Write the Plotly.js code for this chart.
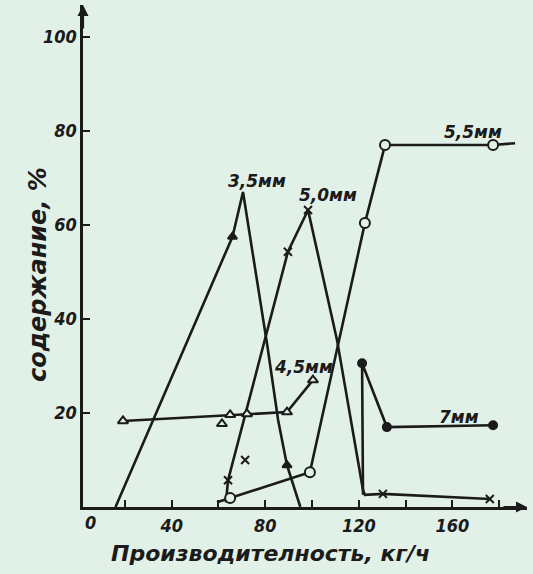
<!DOCTYPE html>
<html><head><meta charset="utf-8">
<script src="https://cdn.plot.ly/plotly-3.0.1.min.js"></script>
<style>html,body{margin:0;padding:0;background:#e2f1e8;}</style>
</head><body><div id="chart" style="width:533px;height:574px;"></div>
<script>
// ---- data ----
const s35_x = [16, 66, 70.5, 81, 85.5, 89.3, 95];
const s35_y = [0, 57.5, 67, 34, 18.5, 8.9, 0];
const s35_mx = [66, 89.3];
const s35_my = [57.5, 8.9];

const s45_x = [19.2, 65, 72.2, 89.3, 100.4];
const s45_y = [18.3, 19.6, 19.8, 20.2, 27];
const s45_mx = [19.2, 61.5, 65, 72.2, 89.3, 100.4];
const s45_my = [18.3, 17.7, 19.6, 19.8, 20.2, 27];

const s50_x = [63.2, 64.1, 89.7, 98.3, 110.7, 121.8, 122.6, 130.3, 176];
const s50_y = [1, 5.7, 54.3, 63.2, 35.5, 3.6, 2.6, 2.8, 1.7];
const s50_mx = [64.1, 71.4, 89.7, 98.3, 130.3, 176];
const s50_my = [5.7, 10, 54.3, 63.2, 2.8, 1.7];

const s55_x = [59.4, 65, 99.1, 122.6, 131.2, 177.4, 186.8];
const s55_y = [1, 1.9, 7.4, 60.4, 77, 77, 77.4];
const s55_mx = [65, 99.1, 122.6, 131.2, 177.4];
const s55_my = [1.9, 7.4, 60.4, 77, 77];

const s7_x = [121.8, 121.4, 132, 177.4];
const s7_y = [2.6, 30.6, 17, 17.4];
const s7_mx = [121.4, 132, 177.4];
const s7_my = [30.6, 17, 17.4];

const seriesLabels = ["3,5мм", "4,5мм", "5,0мм", "5,5мм", "7мм"];
const labelX = [76.5, 96.5, 106.8, 168.8, 163];
const labelY = [69.4, 29.8, 66.4, 79.8, 19.1];

const xTickVals = [40, 80, 120, 160];
const xTickText = ["40", "80", "120", "160"];
const yTickVals = [20, 40, 60, 80, 100];
const yTickText = ["20", "40", "60", "80", "100"];
const xTitle = "Производителность, кг/ч";
const yTitle = "содержание, %";

// ---- styling ----
const INK = "#1b1b1b";
const BG = "#e2f1e8";
const WIDE = "DejaVu Sans, sans-serif";
const NARROW = "Liberation Sans Narrow, DejaVu Sans Condensed, sans-serif";

function lineTrace(x, y) {
  return {x: x, y: y, mode: "lines", type: "scatter", hoverinfo: "skip",
          line: {color: INK, width: 2.6}, showlegend: false, cliponaxis: false};
}
function markTrace(x, y, symbol, size, fill) {
  return {x: x, y: y, mode: "markers", type: "scatter", showlegend: false, cliponaxis: false,
          marker: {symbol: symbol, size: size, color: fill, line: {color: INK, width: 2}}};
}

const traces = [
  lineTrace(s35_x, s35_y), lineTrace(s45_x, s45_y), lineTrace(s50_x, s50_y),
  lineTrace(s55_x, s55_y), lineTrace(s7_x, s7_y),
  markTrace(s35_mx, s35_my, "triangle-up", 8, INK),
  markTrace(s45_mx, s45_my, "triangle-up", 9, BG),
  markTrace(s50_mx, s50_my, "x-thin-open", 8, INK),
  markTrace(s55_mx, s55_my, "circle", 10, BG),
  markTrace(s7_mx, s7_my, "circle", 8, INK)
];

const lblFont = {family: WIDE, size: 17, color: INK, weight: "bold", style: "italic"};
const annotations = seriesLabels.map((t, i) => ({
  x: labelX[i], y: labelY[i], xref: "x", yref: "y", text: t, showarrow: false, font: lblFont
}));
// axis titles
annotations.push({xref: "paper", yref: "paper", x: (270 - 83) / 444, y: 0, yshift: -46,
  xanchor: "center", yanchor: "middle", text: xTitle, showarrow: false,
  font: {family: WIDE, size: 22, color: INK, weight: "bold", style: "italic"}});
annotations.push({xref: "paper", yref: "paper", x: 0, xshift: -45, y: (507 - 275) / 502,
  xanchor: "center", yanchor: "middle",
  textangle: -90, text: yTitle, showarrow: false,
  font: {family: WIDE, size: 24, color: INK, weight: "bold", style: "italic"}});
// "0" origin label
annotations.push({xref: "paper", yref: "paper", x: 0, y: 0, yanchor: "top", yshift: -3,
  text: "0", showarrow: false, font: {family: NARROW, size: 18, color: INK, weight: "bold", style: "italic"}});
// axis arrows
annotations.push({xref: "paper", yref: "paper", x: 0, y: 1, ax: 0, ay: 25, text: "",
  showarrow: true, arrowhead: 2, arrowsize: 1, arrowwidth: 2.2, arrowcolor: INK});
annotations.push({xref: "paper", yref: "paper", x: 1, y: 0, ax: -25, ay: 0, text: "",
  showarrow: true, arrowhead: 2, arrowsize: 1, arrowwidth: 2.2, arrowcolor: INK});

const tickFont = {family: NARROW, size: 18, color: INK, weight: "bold", style: "italic"};
const layout = {
  width: 533, height: 574,
  margin: {l: 83, r: 6, t: 5, b: 67},
  paper_bgcolor: BG, plot_bgcolor: BG,
  showlegend: false,
  xaxis: {range: [2.1, 191.9], showgrid: false, zeroline: false,
          showline: true, linecolor: INK, linewidth: 2.6,
          tickmode: "array", tickvals: xTickVals, ticktext: xTickText,
          ticks: "inside", ticklen: 7, tickwidth: 2, tickcolor: INK,
          minor: {tickmode: "linear", tick0: 0, dtick: 20, ticks: "inside", ticklen: 7, tickwidth: 2, tickcolor: INK},
          tickfont: tickFont, ticklabelstandoff: 1, fixedrange: true},
  yaxis: {range: [0, 106.8], showgrid: false, zeroline: false,
          showline: true, linecolor: INK, linewidth: 2.6,
          tickmode: "array", tickvals: yTickVals, ticktext: yTickText,
          ticks: "inside", ticklen: 7, tickwidth: 2, tickcolor: INK,
          tickfont: tickFont, ticklabelstandoff: 0, fixedrange: true},
  annotations: annotations
};

Plotly.newPlot("chart", traces, layout, {displayModeBar: false, staticPlot: true});
</script>
</body></html>
